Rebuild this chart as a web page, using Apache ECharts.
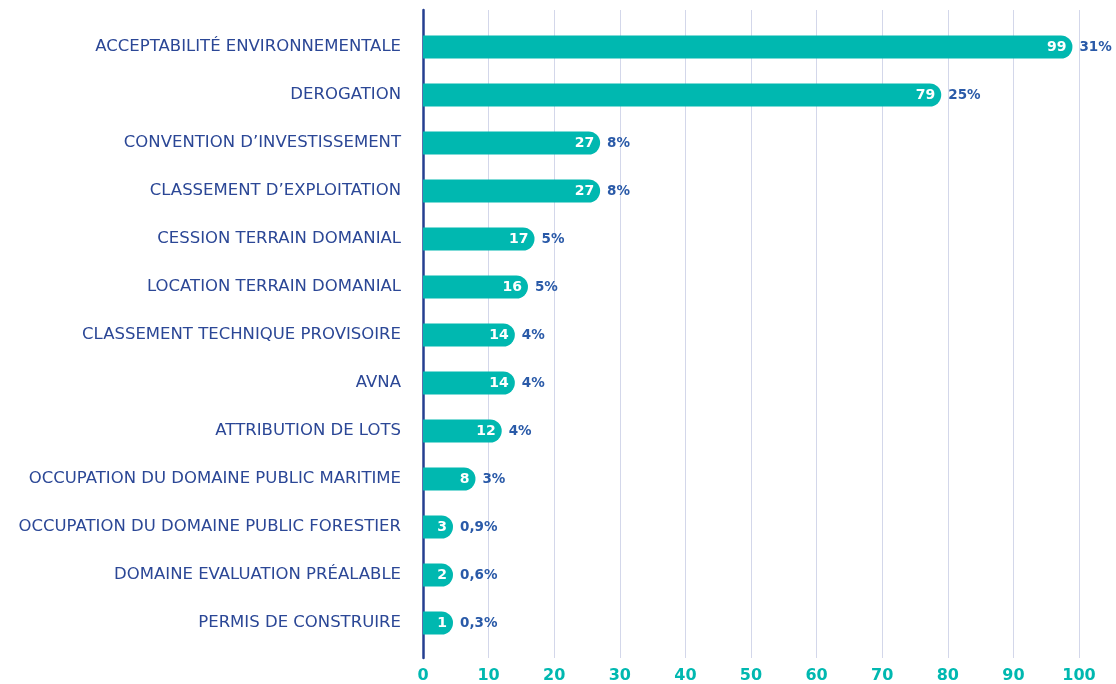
<!DOCTYPE html>
<html>
<head>
<meta charset="utf-8">
<script src="https://cdn.jsdelivr.net/npm/echarts@6/dist/echarts.min.js"></script>
<style>
html,body{margin:0;padding:0;background:#fff;}
#chart{width:1116px;height:684px;}
</style>
</head>
<body>
<div id="chart"></div>
<script>
// demandes par type
var categories = ['ACCEPTABILITÉ ENVIRONNEMENTALE','DEROGATION','CONVENTION D’INVESTISSEMENT','CLASSEMENT D’EXPLOITATION','CESSION TERRAIN DOMANIAL','LOCATION TERRAIN DOMANIAL','CLASSEMENT TECHNIQUE PROVISOIRE','AVNA','ATTRIBUTION DE LOTS','OCCUPATION DU DOMAINE PUBLIC MARITIME','OCCUPATION DU DOMAINE PUBLIC FORESTIER','DOMAINE EVALUATION PRÉALABLE','PERMIS DE CONSTRUIRE']
var values = [99,79,27,27,17,16,14,14,12,8,3,2,1]
var percents = ['31%','25%','8%','8%','5%','5%','4%','4%','4%','3%','0,9%','0,6%','0,3%']
var xTicks = [0,10,20,30,40,50,60,70,80,90,100]

var teal = '#00b8b0'
var navy = '#2b4796'
var font = 'DejaVu Sans'

var myChart = echarts.init(document.getElementById('chart'))
var option = {
    animation:false,
    grid:[
        {left:423,right:37,top:23,bottom:37},
        {left:423,right:37,top:10,bottom:24}
    ],
    xAxis:[
        {gridIndex:0,type:'value',min:0,max:100,interval:10,show:false},
        {
            gridIndex:1,type:'value',min:xTicks[0],max:xTicks[xTicks.length-1],interval:10,
            axisLine:{show:false},axisTick:{show:false},
            splitLine:{show:true,lineStyle:{color:'#d3d7ea',width:1}},
            axisLabel:{color:teal,fontFamily:font,fontWeight:'bold',fontSize:16,margin:10}
        }
    ],
    yAxis:[
        {
            gridIndex:0,type:'category',data:categories,inverse:true,
            axisLine:{show:false},axisTick:{show:false},
            axisLabel:{color:navy,fontFamily:font,fontSize:16.5,margin:22}
        },
        {
            gridIndex:1,type:'value',min:0,max:1,
            axisLine:{show:true,lineStyle:{color:'#253f90',width:2.5}},
            axisTick:{show:false},axisLabel:{show:false},splitLine:{show:false}
        }
    ],
    series:[
        {
            type:'bar',xAxisIndex:0,yAxisIndex:0,
            data:values,
            barWidth:23,
            barMinHeight:30,
            itemStyle:{color:teal,borderRadius:[0,12,12,0]},
            label:{
                show:true,position:'insideRight',distance:6,
                color:'#fff',fontFamily:font,fontWeight:'bold',fontSize:14
            },
            z:3
        },
        {
            type:'bar',xAxisIndex:0,yAxisIndex:0,
            data:values,
            barWidth:23,
            barMinHeight:30,
            barGap:'-100%',
            itemStyle:{color:'rgba(0,0,0,0)'},
            label:{
                show:true,position:'right',distance:7,
                color:'#2a5aa8',fontFamily:font,fontWeight:'bold',fontSize:13.5,
                formatter:function(p){return percents[p.dataIndex]}
            },
            silent:true,
            z:4
        }
    ]
}
myChart.setOption(option)
</script>
</body>
</html>
